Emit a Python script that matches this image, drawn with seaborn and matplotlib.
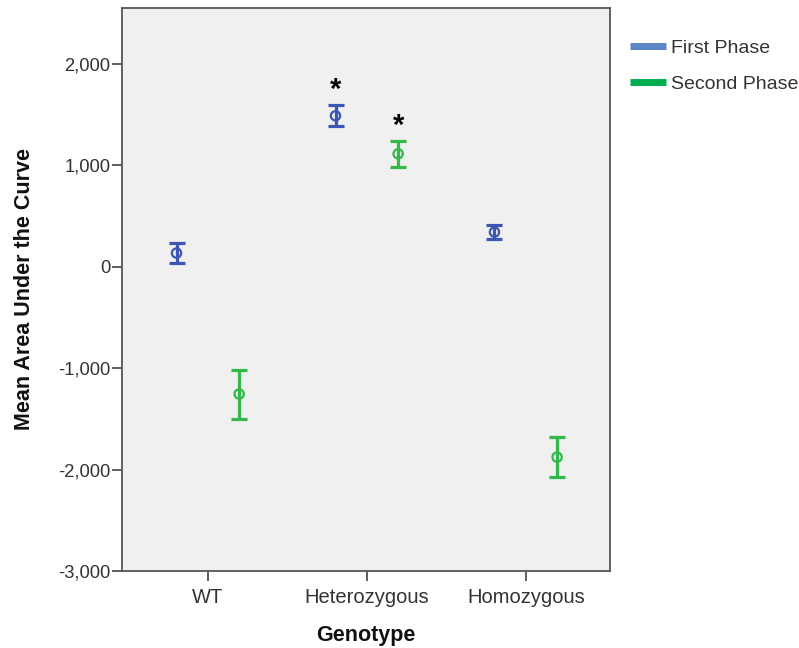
import matplotlib
matplotlib.use("Agg")
import matplotlib.pyplot as plt
from matplotlib.lines import Line2D
from matplotlib.ticker import FuncFormatter
import seaborn as sns
import pandas as pd

genotypes = ["WT", "Heterozygous", "Homozygous"]
phases = ["First Phase", "Second Phase"]

first_mean = [135, 1489, 342]
first_low = [33, 1390, 273]
first_high = [234, 1595, 414]

second_mean = [-1255, 1114, -1877]
second_low = [-1499, 983, -2074]
second_high = [-1019, 1243, -1679]

significant_first = [False, True, False]
significant_second = [False, True, False]

bar_colors = {"First Phase": "#3D55B3", "Second Phase": "#33B84A"}
legend_colors = {"First Phase": "#5A86C5", "Second Phase": "#00AF50"}

rows = []
for i, g in enumerate(genotypes):
    rows.append(dict(Genotype=g, Phase="First Phase", idx=i, mean=first_mean[i],
                     low=first_low[i], high=first_high[i], sig=significant_first[i]))
    rows.append(dict(Genotype=g, Phase="Second Phase", idx=i, mean=second_mean[i],
                     low=second_low[i], high=second_high[i], sig=significant_second[i]))
df = pd.DataFrame(rows)
dodge = {"First Phase": -0.197, "Second Phase": 0.197}
df["pos"] = df["idx"] + df["Phase"].map(dodge)

sns.set_style("white")
plt.rcParams["font.family"] = ["Liberation Sans", "DejaVu Sans"]

fig = plt.figure(figsize=(7.99, 6.48), dpi=100)
ax = fig.add_axes([0.1527, 0.1188, 0.6108, 0.8689])
ax.set_facecolor("#F0F0F0")

for ph in phases:
    sub = df[df["Phase"] == ph]
    ax.errorbar(sub["pos"], sub["mean"],
                yerr=[sub["mean"] - sub["low"], sub["high"] - sub["mean"]],
                fmt="none", ecolor=bar_colors[ph], elinewidth=2.3,
                capsize=5.8, capthick=2.3, zorder=2)

sns.scatterplot(data=df, x="pos", y="mean", hue="Phase", palette=bar_colors,
                marker="o", s=45, linewidth=1.6, legend=False, ax=ax, zorder=3)
for coll in ax.collections:
    fc = coll.get_facecolors()
    if len(fc):
        coll.set_edgecolors(fc)
        coll.set_facecolors("none")

for _, r in df[df["sig"]].iterrows():
    ax.text(r["pos"], r["high"] + 150, "*", ha="center", va="center",
            fontsize=21, color="black", fontweight="bold")

ax.set_xlim(-0.54, 2.53)
ax.set_ylim(-3000, 2552)
ax.set_xticks(range(len(genotypes)))
ax.set_xticklabels(genotypes)
ax.set_yticks([-3000, -2000, -1000, 0, 1000, 2000])
ax.yaxis.set_major_formatter(FuncFormatter(lambda v, p: f"{int(v):,}"))
ax.tick_params(axis="both", direction="out", length=7.5, width=1.2,
               color="#444444", labelcolor="#333333", bottom=True, left=True)
ax.tick_params(axis="y", pad=1, labelsize=13.2)
ax.tick_params(axis="x", pad=5, labelsize=14.5)
for sp in ax.spines.values():
    sp.set_color("#555555")
    sp.set_linewidth(1.3)

ax.set_xlabel("Genotype", fontsize=15.5, fontweight="bold", color="#111111")
ax.set_ylabel("Mean Area Under the Curve", fontsize=15.5, fontweight="bold",
              color="#111111")
ax.xaxis.label.set_va("center")
ax.yaxis.label.set_va("center")
ax.xaxis.set_label_coords(0.5, -0.115)
ax.yaxis.set_label_coords(-0.199, 0.5)

handles = [Line2D([0], [0], color=legend_colors[p], lw=5, solid_capstyle="butt")
           for p in phases]
fig.legend(handles, phases, loc="upper left", bbox_to_anchor=(0.788, 0.939),
           frameon=False, fontsize=14, handlelength=1.85, handletextpad=0.3,
           labelspacing=0.95, labelcolor="#333333", borderpad=0, borderaxespad=0)

fig.savefig("out.png", dpi=100)
